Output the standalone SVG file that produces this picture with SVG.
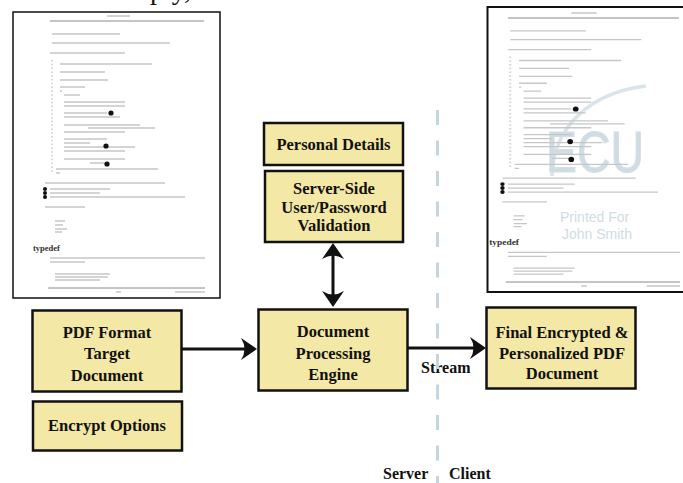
<svg xmlns="http://www.w3.org/2000/svg" xmlns:xlink="http://www.w3.org/1999/xlink" width="683" height="483" viewBox="0 0 683 483">
<style>
.box{fill:#f3e8a5;stroke:#111;stroke-width:2.5}
.lbl{font-family:"Liberation Serif","Times New Roman",serif;font-weight:bold;font-size:16.5px;fill:#111;text-anchor:middle}
.plain{font-family:"Liberation Serif","Times New Roman",serif;font-weight:bold;font-size:16px;fill:#111}
.conn{stroke:#111;stroke-width:3;fill:none}
.page{fill:#fff;stroke:#111}
.txt{stroke:#c6c6c6;stroke-width:1.3;fill:none}
.rule{stroke:#8a8a8a;stroke-width:1;fill:none}
.wm{font-family:"Liberation Sans",Arial,sans-serif;fill:#cfdce3}
</style>
<defs>
<marker id="ah" viewBox="-17 -12 18 24" refX="-8" refY="0" markerWidth="18" markerHeight="24" markerUnits="userSpaceOnUse" orient="auto-start-reverse">
<path d="M0,0 L-16,-11 Q-9,0 -16,11 Z" fill="#111"/>
</marker>
<g id="pagecontent">
<path class="rule" d="M50,21 H204 M48,288 H205"/>
<path d="M107,16 H130 M116,292 H121 M175,292 H205" stroke="#aaa" stroke-width="1.2"/>
<path class="txt" d="M52,34 H120 M52,43 H170 M50,53 H125
M60,64 H152 M60,72 H105 M60,80 H108 M60,87 H85 M60,91 H62 M64,95 H80
M64,102 H125 M64,106 H125 M64,113 H107 M64,117 H120 M64,125 H140 M88,128 H155
M64,132 H125 M64,139 H107 M64,143 H90 M64,147 H135 M64,151 H125 M64,159 H125
M90,163 H105 M56,169 H158 M56,173 H60
M45,183 H165 M50,189 H110 M50,193 H100 M50,197 H185 M45,207 H85
M55,221 H65 M55,225 H63 M55,229 H67 M55,232 H62
M50,258 H205 M50,262 H85 M55,274 H110 M55,277 H108 M55,280 H100"/>
<path d="M52,60 V172" stroke="#d6d6d6" stroke-width="2" stroke-dasharray="1.5 2.3"/>
<g fill="#111">
<circle cx="111" cy="113" r="2.6"/><circle cx="106" cy="146" r="2.6"/><circle cx="107" cy="164" r="2.6"/>
<circle cx="45" cy="189" r="2"/><circle cx="45" cy="193" r="2"/><circle cx="45" cy="197" r="2"/>
</g>
<text x="33" y="251" font-family="Liberation Serif,serif" font-weight="bold" font-size="8.5" fill="#333">typedef</text>
</g>
</defs>

<text x="150" y="-1" font-family="Liberation Serif,serif" font-size="28" fill="#111">ply,</text>

<g id="source-page">
<rect class="page" x="13" y="12" width="207" height="286" stroke-width="1.5"/>
<use xlink:href="#pagecontent"/>
</g>

<g id="output-page">
<rect class="page" x="487.5" y="7" width="205" height="285" stroke-width="2"/>
<path d="M552,176 C553,124 594,92 646,86" stroke="#d8e4ea" stroke-width="3.5" fill="none"/>
<text class="wm" x="546" y="172" font-size="58" textLength="98" lengthAdjust="spacingAndGlyphs" fill="#e9f0f3" stroke="#d3dfe6" stroke-width="1.2">ECU</text>
<text class="wm" x="560" y="222" font-size="14">Printed For</text>
<text class="wm" x="562" y="239" font-size="14">John Smith</text>
<use xlink:href="#pagecontent" transform="matrix(1.11 0 0 0.989 452.5 -2.8)"/>
</g>

<g id="n-personal">
<rect class="box" x="264" y="123" width="139" height="42"/>
<text class="lbl" x="333.5" y="149.5">Personal Details</text>
</g>
<g id="n-validation">
<rect class="box" x="265" y="171" width="138" height="71"/>
<text class="lbl" x="334" y="194" font-size="15.5">Server-Side</text>
<text class="lbl" x="334" y="212.5" font-size="15.5">User/Password</text>
<text class="lbl" x="334" y="231" font-size="15.5">Validation</text>
</g>
<g id="n-pdf">
<rect class="box" x="32.5" y="310.5" width="149" height="81"/>
<text class="lbl" x="107" y="337.5">PDF Format</text>
<text class="lbl" x="107" y="359">Target</text>
<text class="lbl" x="107" y="381">Document</text>
</g>
<g id="n-encrypt">
<rect class="box" x="33" y="401.5" width="149" height="49"/>
<text class="lbl" x="107" y="430.5">Encrypt Options</text>
</g>
<g id="n-engine">
<rect class="box" x="258.5" y="309.5" width="149" height="81"/>
<text class="lbl" x="333" y="337">Document</text>
<text class="lbl" x="333" y="358.5">Processing</text>
<text class="lbl" x="333" y="380">Engine</text>
</g>
<g id="n-final">
<rect class="box" x="486.5" y="307.5" width="149" height="81"/>
<text class="lbl" x="562" y="338">Final Encrypted &amp;</text>
<text class="lbl" x="562" y="358.5">Personalized PDF</text>
<text class="lbl" x="562" y="379">Document</text>
</g>

<g id="labels">
<text class="plain" x="421" y="373" font-size="15">Stream</text>
<text class="plain" x="383" y="479">Server</text>
<text class="plain" x="449" y="479">Client</text>
</g>

<g id="connectors">
<path class="conn" d="M333,251 V299" marker-start="url(#ah)" marker-end="url(#ah)"/>
<path class="conn" d="M182,349 H249" marker-end="url(#ah)"/>
<path class="conn" d="M408,348 H478" marker-end="url(#ah)"/>
<path d="M437.5,110 V483" stroke="#c6d5dd" stroke-width="3" stroke-dasharray="15 15.5"/>
</g>
</svg>
